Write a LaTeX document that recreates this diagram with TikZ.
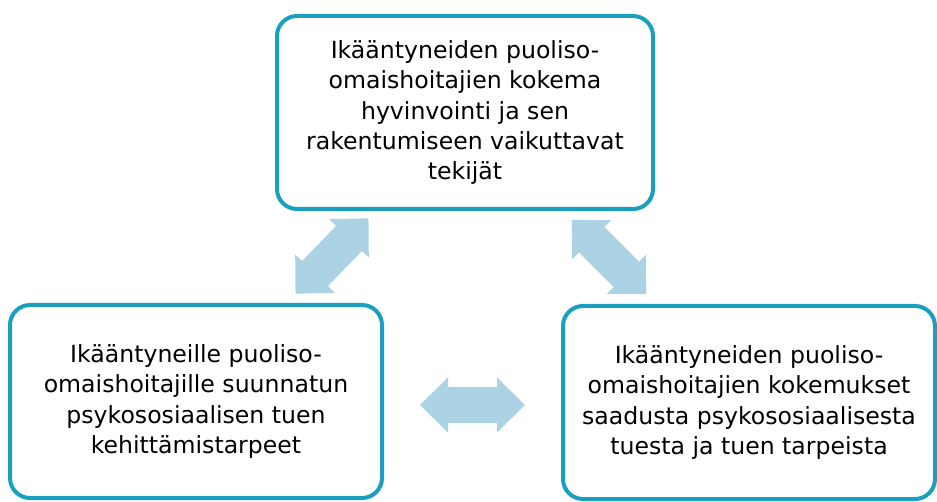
\documentclass[tikz,border=0pt]{standalone}
\usepackage{fontspec}
\setmainfont{DejaVu Sans}
\definecolor{boxline}{RGB}{24,160,190}
\definecolor{arrowfill}{RGB}{172,211,227}
\tikzset{
  theme/.style={draw=boxline, line width=4pt, rounded corners=20pt, fill=white,
    minimum width=372pt, minimum height=193pt, align=center,
    font=\fontsize{23.6}{30.3}\selectfont},
  dblarrow/.pic={
    \fill[arrowfill] (-52.5,0) -- (-24.5,27.5) -- (-24.5,18) -- (24.5,18) -- (24.5,27.5)
      -- (52.5,0) -- (24.5,-27.5) -- (24.5,-18) -- (-24.5,-18) -- (-24.5,-27.5) -- cycle;
  }
}
\begin{document}
\begin{tikzpicture}[x=1pt, y=1pt]
  \useasboundingbox (0, 0) rectangle (937, 501);

  \node[theme, minimum width=376pt] (hyvinvointi) at (465, 388.5)
    {Ikääntyneiden puoliso-\\omaishoitajien kokema\\hyvinvointi ja sen\\rakentumiseen vaikuttavat\\tekijät};
  \node[theme] (tarpeet) at (196, 99.5)
    {Ikääntyneille puoliso-\\omaishoitajille suunnatun\\psykososiaalisen tuen\\kehittämistarpeet};
  \node[theme] (kokemukset) at (749, 98.5)
    {Ikääntyneiden puoliso-\\omaishoitajien kokemukset\\saadusta psykososiaalisesta\\tuesta ja tuen tarpeista};

  \pic[rotate=46] at (332, 245) {dblarrow};
  \pic[rotate=-45] at (609, 244) {dblarrow};
  \pic at (472.5, 96) {dblarrow};
\end{tikzpicture}
\end{document}
